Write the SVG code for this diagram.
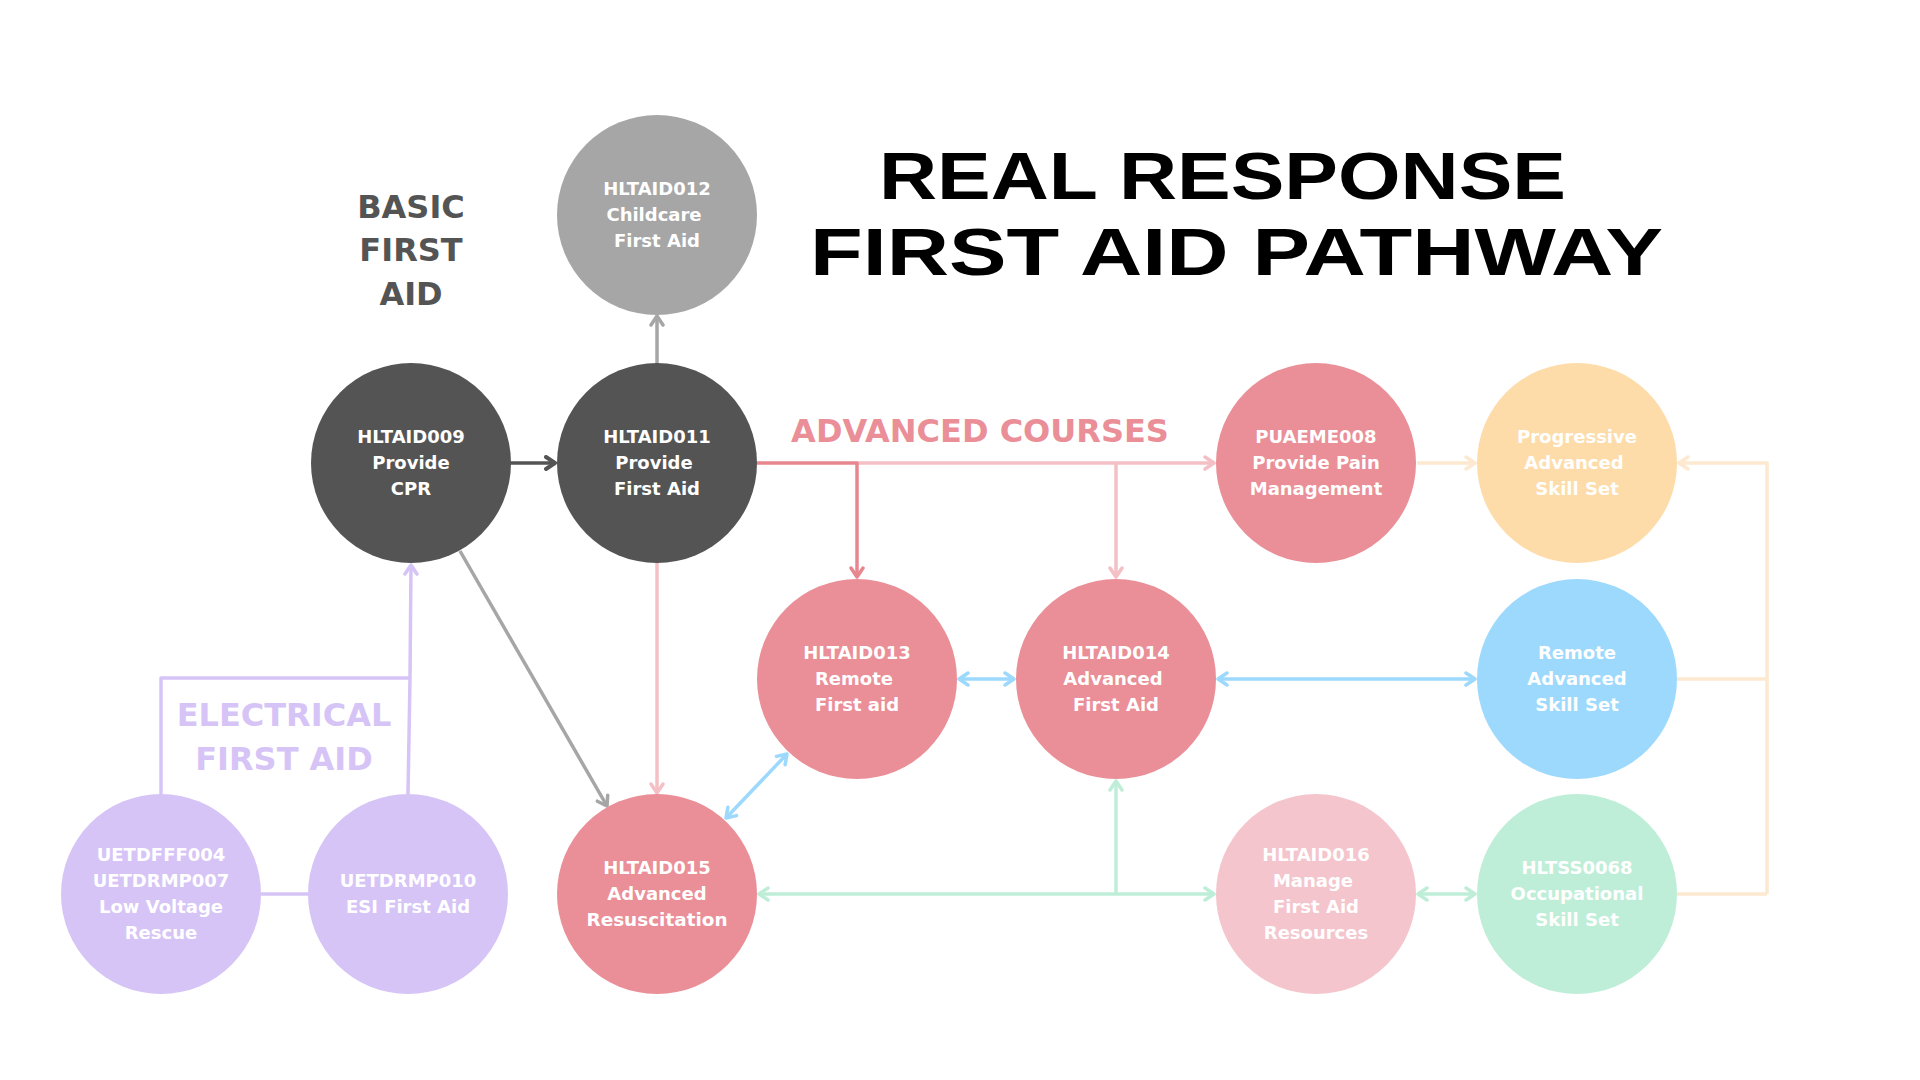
<svg xmlns="http://www.w3.org/2000/svg" width="1920" height="1080" viewBox="0 0 1920 1080">
<style>
.nt{font-family:"DejaVu Sans",Verdana,sans-serif;font-weight:bold;font-size:18px;fill:#ffffff;text-anchor:middle}
.lbl{font-family:"DejaVu Sans",Verdana,sans-serif;font-weight:bold;font-size:32px;text-anchor:middle}
.ttl{font-family:"Liberation Sans",Arial,sans-serif;font-weight:bold;font-size:66px;fill:#000000}
.c{fill:none;stroke-width:3.5;stroke-linejoin:round}
</style>
<defs>
<marker id="mDark" viewBox="-12 -8 14 16" refX="0" refY="0" markerWidth="14" markerHeight="16" markerUnits="userSpaceOnUse" orient="auto-start-reverse"><path d="M-9,-6 L0,0 L-9,6" fill="none" stroke="#545454" stroke-width="4" stroke-linecap="round" stroke-linejoin="round"/></marker>
<marker id="mGrey" viewBox="-12 -8 14 16" refX="0" refY="0" markerWidth="14" markerHeight="16" markerUnits="userSpaceOnUse" orient="auto-start-reverse"><path d="M-9,-6 L0,0 L-9,6" fill="none" stroke="#a6a6a6" stroke-width="3.5" stroke-linecap="round" stroke-linejoin="round"/></marker>
<marker id="mPinkD" viewBox="-12 -8 14 16" refX="0" refY="0" markerWidth="14" markerHeight="16" markerUnits="userSpaceOnUse" orient="auto-start-reverse"><path d="M-9,-6 L0,0 L-9,6" fill="none" stroke="#e8868f" stroke-width="3.5" stroke-linecap="round" stroke-linejoin="round"/></marker>
<marker id="mPinkL" viewBox="-12 -8 14 16" refX="0" refY="0" markerWidth="14" markerHeight="16" markerUnits="userSpaceOnUse" orient="auto-start-reverse"><path d="M-9,-6 L0,0 L-9,6" fill="none" stroke="#f4c0c6" stroke-width="3.5" stroke-linecap="round" stroke-linejoin="round"/></marker>
<marker id="mPeach" viewBox="-12 -8 14 16" refX="0" refY="0" markerWidth="14" markerHeight="16" markerUnits="userSpaceOnUse" orient="auto-start-reverse"><path d="M-9,-6 L0,0 L-9,6" fill="none" stroke="#fde9cf" stroke-width="3.5" stroke-linecap="round" stroke-linejoin="round"/></marker>
<marker id="mBlue" viewBox="-12 -8 14 16" refX="0" refY="0" markerWidth="14" markerHeight="16" markerUnits="userSpaceOnUse" orient="auto-start-reverse"><path d="M-9,-6 L0,0 L-9,6" fill="none" stroke="#9dd9fd" stroke-width="3.5" stroke-linecap="round" stroke-linejoin="round"/></marker>
<marker id="mMint" viewBox="-12 -8 14 16" refX="0" refY="0" markerWidth="14" markerHeight="16" markerUnits="userSpaceOnUse" orient="auto-start-reverse"><path d="M-9,-6 L0,0 L-9,6" fill="none" stroke="#bfeed8" stroke-width="3.5" stroke-linecap="round" stroke-linejoin="round"/></marker>
<marker id="mLav" viewBox="-12 -8 14 16" refX="0" refY="0" markerWidth="14" markerHeight="16" markerUnits="userSpaceOnUse" orient="auto-start-reverse"><path d="M-9,-6 L0,0 L-9,6" fill="none" stroke="#d6c4f6" stroke-width="3.5" stroke-linecap="round" stroke-linejoin="round"/></marker>
</defs>
<rect width="1920" height="1080" fill="#ffffff"/>

<g id="title">
<text class="ttl" x="879" y="199" textLength="687" lengthAdjust="spacingAndGlyphs">REAL RESPONSE</text>
<text class="ttl" x="810" y="275" textLength="853" lengthAdjust="spacingAndGlyphs">FIRST AID PATHWAY</text>
</g>

<g id="labels">
<text class="lbl" fill="#545454" x="411" y="218">BASIC</text>
<text class="lbl" fill="#545454" x="411" y="261">FIRST</text>
<text class="lbl" fill="#545454" x="411" y="305">AID</text>
<text class="lbl" fill="#ea8e97" x="980" y="442">ADVANCED COURSES</text>
<text class="lbl" fill="#d6c4f6" x="284" y="726">ELECTRICAL</text>
<text class="lbl" fill="#d6c4f6" x="284" y="770">FIRST AID</text>
</g>

<g id="connectors">
<path class="c" stroke="#545454" stroke-width="4" d="M510,463 H555" marker-end="url(#mDark)"/>
<path class="c" stroke="#a6a6a6" d="M657,363 V316" marker-end="url(#mGrey)"/>
<path class="c" stroke="#a6a6a6" d="M460,551 L607,806" marker-end="url(#mGrey)"/>
<path class="c" stroke="#f4c0c6" d="M657,563 V793" marker-end="url(#mPinkL)"/>
<path class="c" stroke="#f4c0c6" d="M857,463 H1214" marker-end="url(#mPinkL)"/>
<path class="c" stroke="#f4c0c6" d="M1116,463 V577" marker-end="url(#mPinkL)"/>
<path class="c" stroke="#e8868f" d="M757,463 H857 V577" marker-end="url(#mPinkD)"/>
<path class="c" stroke="#fde9cf" d="M1417,463 H1475" marker-end="url(#mPeach)"/>
<path class="c" stroke="#fde9cf" d="M1767,894 V463 H1679" marker-end="url(#mPeach)"/>
<path class="c" stroke="#fde9cf" d="M1677,679 H1767"/>
<path class="c" stroke="#fde9cf" d="M1677,894 H1767"/>
<path class="c" stroke="#9dd9fd" d="M959,679 H1014" marker-start="url(#mBlue)" marker-end="url(#mBlue)"/>
<path class="c" stroke="#9dd9fd" d="M1218,679 H1475" marker-start="url(#mBlue)" marker-end="url(#mBlue)"/>
<path class="c" stroke="#9dd9fd" d="M726,818 L787,754" marker-start="url(#mBlue)" marker-end="url(#mBlue)"/>
<path class="c" stroke="#bfeed8" d="M759,894 H1214" marker-start="url(#mMint)" marker-end="url(#mMint)"/>
<path class="c" stroke="#bfeed8" d="M1116,894 V781" marker-end="url(#mMint)"/>
<path class="c" stroke="#bfeed8" d="M1418,894 H1475" marker-start="url(#mMint)" marker-end="url(#mMint)"/>
<path class="c" stroke="#d6c4f6" stroke-width="4" d="M261,894 H309"/>
<path class="c" stroke="#d6c4f6" d="M161,794 V678 H410"/>
<path class="c" stroke="#d6c4f6" d="M408,794 L410,678 L411,565" marker-end="url(#mLav)"/>
</g>

<g id="n-hltaid012">
<circle cx="657" cy="215" r="100" fill="#a6a6a6"/>
<text class="nt" x="657" y="195">HLTAID012</text>
<text class="nt" x="654" y="221">Childcare</text>
<text class="nt" x="657" y="247">First Aid</text>
</g>
<g id="n-hltaid009">
<circle cx="411" cy="463" r="100" fill="#545454"/>
<text class="nt" x="411" y="443">HLTAID009</text>
<text class="nt" x="411" y="469">Provide</text>
<text class="nt" x="411" y="495">CPR</text>
</g>
<g id="n-hltaid011">
<circle cx="657" cy="463" r="100" fill="#545454"/>
<text class="nt" x="657" y="443">HLTAID011</text>
<text class="nt" x="654" y="469">Provide</text>
<text class="nt" x="657" y="495">First Aid</text>
</g>
<g id="n-puaeme008">
<circle cx="1316" cy="463" r="100" fill="#ea8e97"/>
<text class="nt" x="1316" y="443">PUAEME008</text>
<text class="nt" x="1316" y="469">Provide Pain</text>
<text class="nt" x="1316" y="495">Management</text>
</g>
<g id="n-progressive">
<circle cx="1577" cy="463" r="100" fill="#fddcaa"/>
<text class="nt" x="1577" y="443">Progressive</text>
<text class="nt" x="1574" y="469">Advanced</text>
<text class="nt" x="1577" y="495">Skill Set</text>
</g>
<g id="n-hltaid013">
<circle cx="857" cy="679" r="100" fill="#ea8e97"/>
<text class="nt" x="857" y="659">HLTAID013</text>
<text class="nt" x="854" y="685">Remote</text>
<text class="nt" x="857" y="711">First aid</text>
</g>
<g id="n-hltaid014">
<circle cx="1116" cy="679" r="100" fill="#ea8e97"/>
<text class="nt" x="1116" y="659">HLTAID014</text>
<text class="nt" x="1113" y="685">Advanced</text>
<text class="nt" x="1116" y="711">First Aid</text>
</g>
<g id="n-remote">
<circle cx="1577" cy="679" r="100" fill="#9dd9fd"/>
<text class="nt" x="1577" y="659">Remote</text>
<text class="nt" x="1577" y="685">Advanced</text>
<text class="nt" x="1577" y="711">Skill Set</text>
</g>
<g id="n-uetdfff004">
<circle cx="161" cy="894" r="100" fill="#d6c4f6"/>
<text class="nt" x="161" y="861">UETDFFF004</text>
<text class="nt" x="161" y="887">UETDRMP007</text>
<text class="nt" x="161" y="913">Low Voltage</text>
<text class="nt" x="161" y="939">Rescue</text>
</g>
<g id="n-uetdrmp010">
<circle cx="408" cy="894" r="100" fill="#d6c4f6"/>
<text class="nt" x="408" y="887">UETDRMP010</text>
<text class="nt" x="408" y="913">ESI First Aid</text>
</g>
<g id="n-hltaid015">
<circle cx="657" cy="894" r="100" fill="#ea8e97"/>
<text class="nt" x="657" y="874">HLTAID015</text>
<text class="nt" x="657" y="900">Advanced</text>
<text class="nt" x="657" y="926" textLength="141" lengthAdjust="spacingAndGlyphs">Resuscitation</text>
</g>
<g id="n-hltaid016">
<circle cx="1316" cy="894" r="100" fill="#f4c5cc"/>
<text class="nt" x="1316" y="861">HLTAID016</text>
<text class="nt" x="1313" y="887">Manage</text>
<text class="nt" x="1316" y="913">First Aid</text>
<text class="nt" x="1316" y="939">Resources</text>
</g>
<g id="n-hltss0068">
<circle cx="1577" cy="894" r="100" fill="#bfeed8"/>
<text class="nt" x="1577" y="874">HLTSS0068</text>
<text class="nt" x="1577" y="900">Occupational</text>
<text class="nt" x="1577" y="926">Skill Set</text>
</g>
</svg>
